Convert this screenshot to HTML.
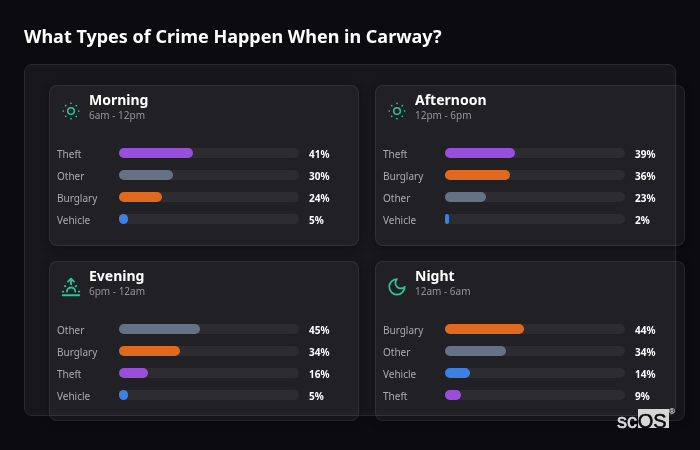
<!DOCTYPE html>
<html><head><meta charset="utf-8">
<style>
*{box-sizing:border-box;margin:0;padding:0}
html,body{width:700px;height:450px;overflow:hidden;background:#0c0c10}
body{position:relative;font-family:"Noto Sans","Open Sans","Liberation Sans",sans-serif;color:#fff}
h1{position:absolute;left:24px;top:23px;font-size:18px;font-weight:700;line-height:26px;color:#fff;white-space:nowrap}
.wrap{position:absolute;left:24px;top:64px;width:652px;height:352px;border:1px solid #2a2a30;border-radius:8px;background:#17171c}
.card{position:absolute;width:310px;height:160px;border:1px solid rgba(255,255,255,0.075);border-radius:8px;background:rgba(255,255,255,0.045);box-shadow:0 2px 8px rgba(0,0,0,0.3)}
.ic{position:absolute;left:9px;top:13px;width:24px;height:24px}
.ic svg{display:block;width:24px;height:24px;fill:none;stroke:#2dc691;stroke-width:2;stroke-linecap:round;stroke-linejoin:round}
.tt{position:absolute;left:39px;top:4px;font-size:14px;font-weight:700;line-height:20px;white-space:nowrap;color:#fff}
.st{position:absolute;left:39px;top:22px;font-size:10px;line-height:14px;color:#94949d;white-space:nowrap}
.row{position:absolute;left:7px;height:10px;width:300px}
.lb{position:absolute;left:0;top:-2px;font-size:10px;line-height:16px;color:#aaaab2;white-space:nowrap}
.tr{position:absolute;left:62px;top:0;width:180px;height:10px;border-radius:5px;background:#2c2c31}
.fl{position:absolute;left:0;top:0;height:10px;border-radius:5px}
.vl{position:absolute;left:252px;top:-2px;font-size:10px;font-weight:700;line-height:16px;color:#fff;white-space:nowrap}
.p{background:#9a4fdc}.g{background:#657286}.o{background:#e0691f}.b{background:#3c80e6}
.lg-sc,.lg-os{position:absolute;font-family:"Liberation Sans",Arial,sans-serif;font-size:20px;line-height:20px;white-space:nowrap;-webkit-text-stroke:0.55px currentColor}
.lg-sc{left:617px;top:410.7px;color:#dedede}
.lg-box{position:absolute;left:637.8px;top:409px;width:31.3px;height:19px;background:#d6d6d6}
.lg-os{left:637.7px;top:410.8px;color:#0a0a0a}
.lg-r{position:absolute;left:669px;top:407.6px;font-family:"Liberation Sans",Arial,sans-serif;font-size:8px;line-height:8px;color:#c5c7d6;-webkit-text-stroke:0.2px currentColor}
</style></head><body>
<h1>What Types of Crime Happen When in Carway?</h1>
<div class="wrap"></div>

<div class="card" style="left:49px;top:85px;height:160.5px">
  <div class="ic"><svg viewBox="0 0 24 24"><circle cx="12" cy="12" r="3.3" stroke-width="1.5"/><g fill="#2dc691" stroke="none"><circle cx="12" cy="4.3" r="0.85"/><circle cx="12" cy="19.7" r="0.85"/><circle cx="4.3" cy="12" r="0.85"/><circle cx="19.7" cy="12" r="0.85"/><circle cx="6.7" cy="6.7" r="0.85"/><circle cx="17.3" cy="6.7" r="0.85"/><circle cx="6.7" cy="17.3" r="0.85"/><circle cx="17.3" cy="17.3" r="0.85"/></g></svg></div>
  <div class="tt">Morning</div>
  <div class="st">6am - 12pm</div>
  <div class="row" style="top:62px"><span class="lb">Theft</span><div class="tr"><div class="fl p" style="width:41%"></div></div><span class="vl">41%</span></div>
  <div class="row" style="top:84px"><span class="lb">Other</span><div class="tr"><div class="fl g" style="width:30%"></div></div><span class="vl">30%</span></div>
  <div class="row" style="top:106px"><span class="lb">Burglary</span><div class="tr"><div class="fl o" style="width:24%"></div></div><span class="vl">24%</span></div>
  <div class="row" style="top:128px"><span class="lb">Vehicle</span><div class="tr"><div class="fl b" style="width:5%"></div></div><span class="vl">5%</span></div>
</div>

<div class="card" style="left:375px;top:85px;height:160.5px">
  <div class="ic"><svg viewBox="0 0 24 24"><circle cx="12" cy="12" r="3.3" stroke-width="1.5"/><g fill="#2dc691" stroke="none"><circle cx="12" cy="4.3" r="0.85"/><circle cx="12" cy="19.7" r="0.85"/><circle cx="4.3" cy="12" r="0.85"/><circle cx="19.7" cy="12" r="0.85"/><circle cx="6.7" cy="6.7" r="0.85"/><circle cx="17.3" cy="6.7" r="0.85"/><circle cx="6.7" cy="17.3" r="0.85"/><circle cx="17.3" cy="17.3" r="0.85"/></g></svg></div>
  <div class="tt">Afternoon</div>
  <div class="st">12pm - 6pm</div>
  <div class="row" style="top:62px"><span class="lb">Theft</span><div class="tr"><div class="fl p" style="width:39%"></div></div><span class="vl">39%</span></div>
  <div class="row" style="top:84px"><span class="lb">Burglary</span><div class="tr"><div class="fl o" style="width:36%"></div></div><span class="vl">36%</span></div>
  <div class="row" style="top:106px"><span class="lb">Other</span><div class="tr"><div class="fl g" style="width:23%"></div></div><span class="vl">23%</span></div>
  <div class="row" style="top:128px"><span class="lb">Vehicle</span><div class="tr"><div class="fl b" style="width:2%"></div></div><span class="vl">2%</span></div>
</div>

<div class="card" style="left:49px;top:260.6px;height:160.4px">
  <div class="ic"><svg viewBox="0 0 24 24"><g transform="translate(12 12) scale(0.92) translate(-12 -12)"><path d="M3 17h.6m16.8 0h.6m-15.6 -6.2l.5 .5m11.8 -.5l-.5 .5m-9.6 5.7a4.5 4.5 0 0 1 9 0"/><path d="M3 21l18 0"/><path d="M12 9v-6l3.2 3.2m-6.4 0l3.2 -3.2"/></g></svg></div>
  <div class="tt">Evening</div>
  <div class="st">6pm - 12am</div>
  <div class="row" style="top:62px"><span class="lb">Other</span><div class="tr"><div class="fl g" style="width:45%"></div></div><span class="vl">45%</span></div>
  <div class="row" style="top:84px"><span class="lb">Burglary</span><div class="tr"><div class="fl o" style="width:34%"></div></div><span class="vl">34%</span></div>
  <div class="row" style="top:106px"><span class="lb">Theft</span><div class="tr"><div class="fl p" style="width:16%"></div></div><span class="vl">16%</span></div>
  <div class="row" style="top:128px"><span class="lb">Vehicle</span><div class="tr"><div class="fl b" style="width:5%"></div></div><span class="vl">5%</span></div>
</div>

<div class="card" style="left:375px;top:260.6px;height:160.4px">
  <div class="ic"><svg viewBox="0 0 24 24"><g transform="translate(12 11.8) scale(0.86) translate(-12 -12)"><path d="M12 3a6 6 0 0 0 9 9 9 9 0 1 1-9-9Z"/></g></svg></div>
  <div class="tt">Night</div>
  <div class="st">12am - 6am</div>
  <div class="row" style="top:62px"><span class="lb">Burglary</span><div class="tr"><div class="fl o" style="width:44%"></div></div><span class="vl">44%</span></div>
  <div class="row" style="top:84px"><span class="lb">Other</span><div class="tr"><div class="fl g" style="width:34%"></div></div><span class="vl">34%</span></div>
  <div class="row" style="top:106px"><span class="lb">Vehicle</span><div class="tr"><div class="fl b" style="width:14%"></div></div><span class="vl">14%</span></div>
  <div class="row" style="top:128px"><span class="lb">Theft</span><div class="tr"><div class="fl p" style="width:9%"></div></div><span class="vl">9%</span></div>
</div>

<div class="lg-sc">sc</div><div class="lg-box"></div><div class="lg-os">OS</div><div class="lg-r">®</div>
</body></html>
